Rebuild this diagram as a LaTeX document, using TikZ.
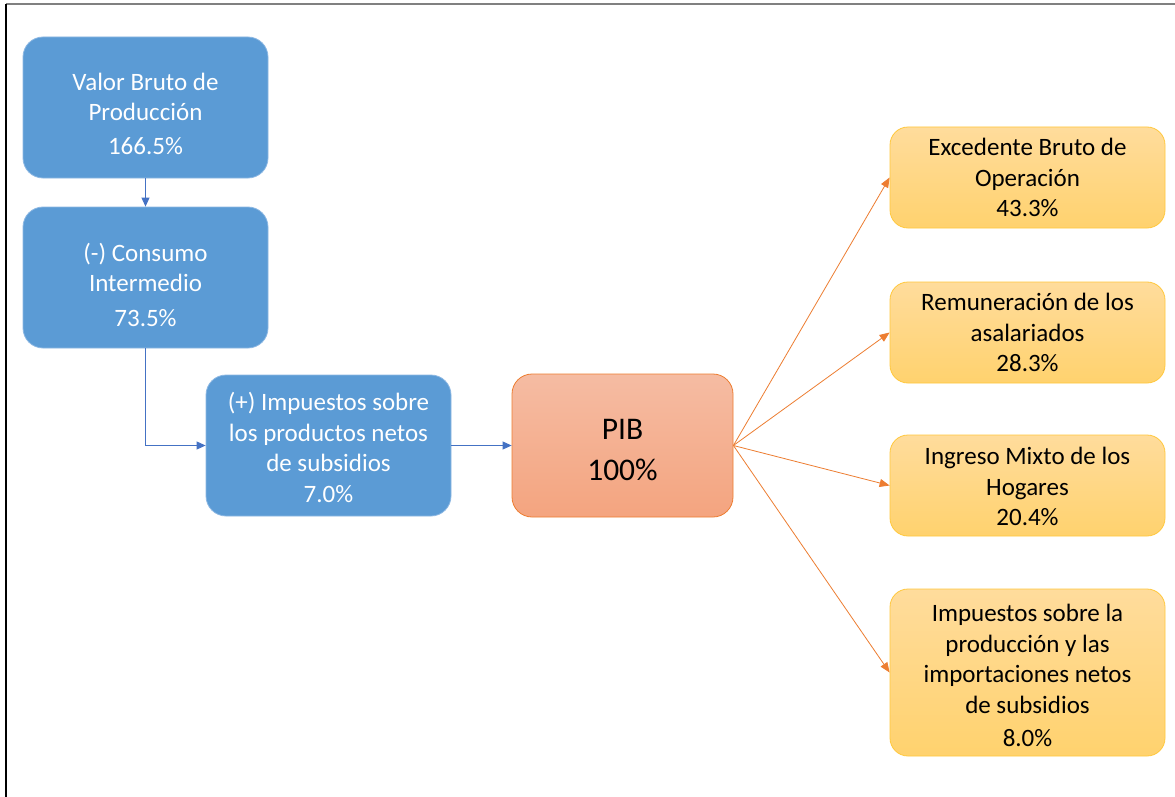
\documentclass[tikz,border=0pt]{standalone}
\usepackage{fontspec}
\setmainfont{Carlito}
\usetikzlibrary{arrows.meta}
\definecolor{bluefill}{HTML}{5B9BD5}
\definecolor{blueedge}{HTML}{8DB8E3}
\definecolor{bluearrow}{HTML}{4472C4}
\definecolor{orangeedge}{HTML}{ED7D31}
\definecolor{pibtop}{HTML}{F5BCA3}
\definecolor{pibbot}{HTML}{F4A47F}
\definecolor{yeltop}{HTML}{FFDC9C}
\definecolor{yelbot}{HTML}{FFD26E}
\definecolor{yeledge}{HTML}{FFC83D}
\tikzset{
  bluebox/.style={rectangle, rounded corners=20pt, fill=bluefill, draw=blueedge, line width=0.8pt,
    minimum width=245pt, minimum height=141pt, inner sep=0pt},
  bluetext/.style={text=white, align=center, inner sep=0pt, font=\fontsize{25}{30.5}\selectfont},
  pibbox/.style={rectangle, rounded corners=20pt, top color=pibtop, bottom color=pibbot, draw=orangeedge, line width=0.8pt,
    minimum width=221pt, minimum height=143pt, inner sep=0pt},
  pibtext/.style={text=black, align=center, inner sep=0pt, font=\fontsize{31.5}{41}\selectfont},
  yelbox/.style={rectangle, rounded corners=18pt, top color=yeltop, bottom color=yelbot, draw=yeledge, line width=0.8pt,
    minimum width=275pt, inner sep=0pt},
  yeltext/.style={text=black, align=center, inner sep=0pt, font=\fontsize{25}{30.5}\selectfont},
  bluearr/.style={draw=bluearrow, line width=0.8pt, -{Triangle[length=9pt,width=8pt]}},
  orarr/.style={draw=orangeedge, line width=0.8pt, -{Triangle[length=10pt,width=8pt]}},
}
\begin{document}
\begin{tikzpicture}[x=1pt,y=-1pt]
\useasboundingbox (0,0) rectangle (1175,797);
\fill[white] (0,0) rectangle (1175,797);
\draw[gray, line width=1.2pt] (6,4) -- (1175,4);
\draw[black, line width=1.2pt] (6,4) -- (6,797);

\node[bluebox, label={[bluetext,yshift=-6pt]center:{Valor Bruto de\\Producción\\[3pt]166.5\%}}] (vbp) at (145.5,107.5) {};
\node[bluebox, label={[bluetext,yshift=-7pt]center:{(-) Consumo\\Intermedio\\[4pt]73.5\%}}] (ci) at (145.5,277.5) {};
\node[bluebox, label={[bluetext,yshift=-2pt]center:{(+) Impuestos sobre\\los productos netos\\de subsidios\\7.0\%}}] (imp) at (328.5,445.5) {};
\node[pibbox, label={[pibtext,yshift=-5pt]center:{PIB\\100\%}}] (pib) at (622.5,445.5) {};

\node[yelbox, minimum height=101pt, label={[yeltext]center:{Excedente Bruto de\\Operación\\43.3\%}}] (ebo) at (1027.5,177.5) {};
\node[yelbox, minimum height=101pt, label={[yeltext]center:{Remuneración de los\\asalariados\\28.3\%}}] (rem) at (1027.5,332.5) {};
\node[yelbox, minimum height=101pt, label={[yeltext,yshift=-1pt]center:{Ingreso Mixto de los\\Hogares\\20.4\%}}] (imh) at (1027.5,485.5) {};
\node[yelbox, minimum height=167pt, label={[yeltext,yshift=-3pt]center:{Impuestos sobre la\\producción y las\\importaciones netos\\de subsidios\\[3pt]8.0\%}}] (ipi) at (1027.5,672.5) {};

\draw[bluearr] (vbp) -- (ci);
\draw[bluearr] (ci.south) |- (imp.west);
\draw[bluearr] (imp) -- (pib);

\draw[orarr] (pib.east) -- (ebo.west);
\draw[orarr] (pib.east) -- (rem.west);
\draw[orarr] (pib.east) -- (imh.west);
\draw[orarr] (pib.east) -- (ipi.west);
\end{tikzpicture}
\end{document}
